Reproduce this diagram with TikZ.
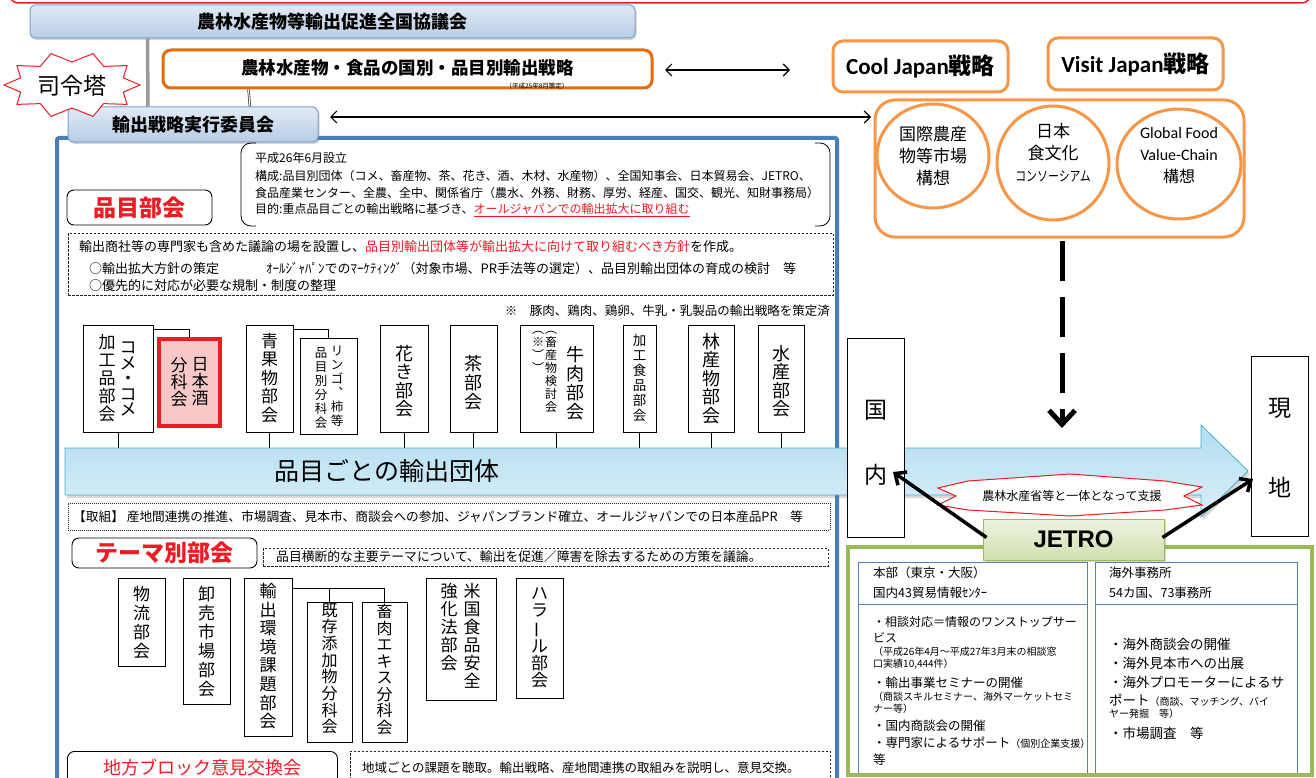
\documentclass[tikz,border=0pt]{standalone}
\usepackage{fontspec}
\setmainfont{Noto Sans CJK JP}
\newfontfamily\carl{Carlito}
\newfontfamily\arl{Liberation Sans}
\usetikzlibrary{arrows.meta,calc,shadows,shapes.geometric}
\newcommand{\fs}[1]{\fontsize{#1}{#1}\selectfont}
\newcommand{\vfs}[2]{\fontsize{#1}{#2}\selectfont}
\newcommand{\vbar}{\rotatebox[origin=c]{90}{ー}}
\definecolor{frameblue}{RGB}{74,126,187}
\definecolor{boxblueT}{RGB}{225,234,245}
\definecolor{boxblueB}{RGB}{185,205,229}
\definecolor{boxblueD}{RGB}{126,160,204}
\definecolor{orgL}{RGB}{247,150,70}
\definecolor{orgD}{RGB}{228,108,10}
\definecolor{jred}{RGB}{237,28,36}
\definecolor{jgreen}{RGB}{155,187,89}
\definecolor{tblue}{RGB}{79,129,189}
\definecolor{arrT}{RGB}{178,221,240}
\definecolor{arrB}{RGB}{218,239,248}
\definecolor{arrD}{RGB}{75,172,198}
\definecolor{pinkfill}{RGB}{248,200,200}
\definecolor{jgT}{RGB}{238,243,226}
\definecolor{jgB}{RGB}{208,224,175}
\tikzset{
 bluebox/.style={draw=boxblueD, line width=1pt, rounded corners=5pt, top color=boxblueT, bottom color=boxblueB, drop shadow={opacity=0.35,shadow xshift=1.5pt,shadow yshift=-2pt}, font=\bfseries\fs{18}},
 orgbox/.style={draw=orgL, line width=3pt, rounded corners=10pt, fill=white},
 vbox/.style={draw=black, line width=0.8pt, fill=white, inner sep=0pt},
 vt/.style={align=center, inner sep=0pt, anchor=north},
 lbl/.style={draw=black, line width=0.9pt, rounded corners=7pt, fill=white, text=jred, inner sep=0pt},
 dbox/.style={draw=black!85, line width=0.7pt, dash pattern=on 2.5pt off 1.5pt, inner sep=0pt},
 txt/.style={anchor=west, inner sep=0pt, font=\fs{12}},
 dblarrow/.style={line width=1.2pt, {Straight Barb[length=6pt,width=12pt]}-{Straight Barb[length=6pt,width=12pt]}},
 jarrow/.style={line width=3.5pt, -{Straight Barb[length=9pt,width=16pt]}},
 tline/.style={draw=tblue, line width=0.8pt},
}
\begin{document}
\begin{tikzpicture}[x=1pt,y=-1pt]
\useasboundingbox (0,0) rectangle (1316,778);
\clip (0,0) rectangle (1316,778);
\fill[white] (0,0) rectangle (1316,778);

% top red frame
\draw[jred, line width=1.5pt, rounded corners=8pt] (10,-40) rectangle (1310,3);

% frames
\draw[frameblue, line width=4pt, rounded corners=2pt] (57,138) rectangle (837,800);
\draw[jgreen, line width=4pt] (848,547) rectangle (1312,775);

% top structure
\node[bluebox, minimum width=605pt, minimum height=33pt] (council) at (332.5,21.5) {農林水産物等輸出促進全国協議会};
\node[orgbox, draw=orgD, minimum width=489pt, minimum height=38pt, rounded corners=8pt] (strategy) at (407.5,69) {};
\node[font=\bfseries\fs{17.5}] (stratxt) at (407.5,68) {農林水産物・食品の国別・品目別輸出戦略};
\node[font=\fs{6.5}] (stranote) at (537,86.5) {（平成25年8月策定）};
\draw[gray!80, line width=3.5pt] ($(council.south west)+(118,0)$) -- (148,108);
\draw[black!80, line width=0.7pt, double=white, double distance=1pt] ($(strategy.south west)+(87,0)$) -- (250,108);
\node[bluebox, minimum width=250pt, minimum height=35pt] (iinkai) at (193,124.5) {輸出戦略実行委員会};

% 司令塔
\draw[jred, line width=1pt, fill=white] (140,85) \foreach \i in {1,...,19} { -- ({72+(61+7*cos(180*\i))*cos(18*\i)}, {85+(28+5*cos(180*\i))*sin(18*\i)}) } -- cycle;
\node[font=\fs{23}] (shirei) at (72,86) {司令塔};

% Cool / Visit Japan
\node[orgbox, minimum width=175pt, minimum height=51pt, font=\bfseries\fs{23}] (cool) at (920.5,66.5) {{\carl Cool Japan}戦略};
\node[orgbox, minimum width=175pt, minimum height=52pt, font=\bfseries\fs{23}] (visit) at (1135.5,64) {{\carl Visit Japan}戦略};
\node[orgbox, minimum width=369pt, minimum height=137pt, rounded corners=20pt] (concept) at (1059.5,168.5) {};
\node[ellipse, draw=orgL, line width=3pt, minimum width=112pt, minimum height=104pt, inner sep=0pt] (c1) at (933,156) {};
\node[align=center, font=\vfs{17}{22}] (c1t) at (933,156) {国際農産\\物等市場\\構想};
\node[ellipse, draw=orgL, line width=3pt, minimum width=112pt, minimum height=114pt, inner sep=0pt] (c2) at (1053,163) {};
\node[align=center, font=\vfs{17}{22}] (c2t) at (1053,153) {日本\\食文化\\{\fs{14}\scalebox{0.78}[1]{コンソーシアム}}};
\node[ellipse, draw=orgL, line width=3pt, minimum width=124pt, minimum height=110pt, inner sep=0pt] (c3) at (1179,164) {};
\node[align=center, font=\vfs{16}{22}] (c3t) at (1179,156) {{\carl Global Food}\\{\carl Value-Chain}\\構想};

% arrows top
\coordinate (a1s) at (665,70);
\coordinate (a1e) at (790,70);
\draw[dblarrow] (a1s) -- (a1e);
\coordinate (a2s) at (330,117);
\coordinate (a2e) at (871,117);
\draw[dblarrow] (a2s) -- (a2e);
\coordinate (dsS) at (1062,241);
\coordinate (dsE) at (1062,428);
\draw[line width=5pt, dash pattern=on 40pt off 16pt, -{Straight Barb[length=14pt,width=26pt]}] (dsS) -- (dsE);

% bracket info box
\draw[black, line width=0.8pt, rounded corners=10pt] (256,143) -- (241,143) -- (241,226) -- (256,226);
\draw[black, line width=0.8pt, rounded corners=10pt] (815,143) -- (830,143) -- (830,226) -- (815,226);
\node[txt] (i1) at (255,158) {平成26年6月設立};
\node[txt] (i2) at (255,176) {構成:品目別団体（コメ、畜産物、茶、花き、酒、木材、水産物）、全国知事会、日本貿易会、JETRO、};
\node[txt] (i3) at (255,193) {食品産業センター、全農、全中、関係省庁（農水、外務、財務、厚労、経産、国交、観光、知財事務局）};
\node[txt] (i4) at (255,210) {目的:重点品目ごとの輸出戦略に基づき、\textcolor{jred}{\underline{オールジャパンでの輸出拡大に取り組む}}};

\node[lbl, minimum width=145pt, minimum height=35pt, font=\bfseries\fs{23}] (hinmoku) at (139.5,207.5) {品目部会};
\node[dbox, minimum width=765pt, minimum height=62pt] (policy) at (450.5,264) {};
\node[txt, font=\fs{13}] (p1) at (79,247) {輸出商社等の専門家も含めた議論の場を設置し、\textcolor{jred}{品目別輸出団体等が輸出拡大に向けて取り組むべき方針}を作成。};
\node[txt, font=\fs{13}] (p2a) at (89,269) {○輸出拡大方針の策定};
\node[txt, font=\fs{13}] (p2b) at (266,269) {ｵｰﾙｼﾞｬﾊﾟﾝでのﾏｰｹﾃｨﾝｸﾞ（対象市場、PR手法等の選定）、品目別輸出団体の育成の検討　等};
\node[txt, font=\fs{13}] (p3) at (89,286) {○優先的に対応が必要な規制・制度の整理};
\node[anchor=east, inner sep=0pt, font=\fs{12.5}] (note) at (830,311) {※　豚肉、鶏肉、鶏卵、牛乳・乳製品の輸出戦略を策定済};

% big flow arrow
\draw[arrD, line width=0.8pt, top color=arrT, bottom color=arrB, drop shadow={opacity=0.3,shadow xshift=2pt,shadow yshift=-3pt}] (65,448) -- (1201,448) -- (1201,425) -- (1248,471) -- (1201,517) -- (1201,495) -- (65,495) -- cycle;
\node[font=\fs{25}] (flowtxt) at (387,471) {品目ごとの輸出団体};
\coordinate (arrtop) at (0,448);

% item boxes
\node[vbox, minimum width=70pt, minimum height=107pt] (b1) at (118,378.5) {};
\node[draw=jred, line width=4pt, fill=pinkfill, minimum width=61pt, minimum height=87pt, inner sep=0pt] (b2) at (189.5,382.5) {};
\node[vbox, minimum width=47pt, minimum height=107pt] (b3) at (269.5,378.5) {};
\node[vbox, minimum width=57pt, minimum height=96pt] (b4) at (328.5,386) {};
\node[vbox, minimum width=48pt, minimum height=107pt] (b5) at (404,378.5) {};
\node[vbox, minimum width=47pt, minimum height=107pt] (b6) at (473.5,378.5) {};
\node[vbox, minimum width=73pt, minimum height=107pt] (b7) at (556.5,378.5) {};
\node[vbox, minimum width=33pt, minimum height=107pt] (b8) at (639.5,378.5) {};
\node[vbox, minimum width=46pt, minimum height=107pt] (b9) at (711,378.5) {};
\node[vbox, minimum width=46pt, minimum height=107pt] (b10) at (781,378.5) {};
\draw[line width=0.8pt] ($(b1.north east)+(0,5)$) -| (b2.north);
\draw[line width=0.8pt] ($(b3.north east)+(0,5)$) -| (b4.north);
\foreach \b in {b1,b3,b5,b6,b7,b8,b9,b10} { \draw[line width=1pt] (\b.south) -- (\b.south |- arrtop); }

\node[vt, font=\vfs{17}{15.5}] (b1r) at (128,342) {コ\\メ\\・\\コ\\メ};
\node[vt, font=\vfs{17}{18}] (b1l) at (107,334) {加\\工\\品\\部\\会};
\node[vt, font=\vfs{17}{17}] (b2r) at (200,357) {日\\本\\酒};
\node[vt, font=\vfs{17}{17}] (b2l) at (179,357) {分\\科\\会};
\node[vt, font=\vfs{17}{18.5}] (b3t) at (269.5,333) {青\\果\\物\\部\\会};
\node[vt, font=\vfs{12.5}{14}] (b4r) at (337,346) {リ\\ン\\ゴ\\︑\\柿\\等};
\node[vt, font=\vfs{12.5}{14}] (b4l) at (321,347) {品\\目\\別\\分\\科\\会};
\node[vt, font=\vfs{18}{18.5}] (b5t) at (404,345) {花\\き\\部\\会};
\node[vt, font=\vfs{18}{19}] (b6t) at (473.5,355) {茶\\部\\会};
\node[vt, font=\vfs{18}{19}] (b7r) at (575,346) {牛\\肉\\部\\会};
\node[vt, font=\vfs{12}{13}] (b7m) at (551,331) {︵\\畜\\産\\物\\検\\討\\会};
\node[vt, font=\vfs{12}{13}] (b7l) at (538,331) {︵\\※\\︶\\︶};
\node[vt, font=\vfs{13.5}{15}] (b8t) at (639.5,334) {加\\工\\食\\品\\部\\会};
\node[vt, font=\vfs{18}{18.5}] (b9t) at (711,333) {林\\産\\物\\部\\会};
\node[vt, font=\vfs{18}{18.5}] (b10t) at (781,345) {水\\産\\部\\会};

% torikumi
\node[dbox, dash pattern=on 1pt off 1pt, minimum width=762pt, minimum height=27pt] (torikumi) at (449,516.5) {};
\node[txt, font=\fs{12.7}] (tk) at (73,517) {【取組】 産地間連携の推進、市場調査、見本市、商談会への参加、ジャパンブランド確立、オールジャパンでの日本産品PR　等};

% theme
\node[lbl, minimum width=185pt, minimum height=30pt, font=\bfseries\fs{23}] (theme) at (164.5,553) {テーマ別部会};
\node[dbox, minimum width=565pt, minimum height=18pt] (themebox) at (545.5,557) {};
\node[txt, font=\fs{12.8}] (thtxt) at (276,557) {品目横断的な主要テーマについて、輸出を促進／障害を除去するための方策を議論。};

\node[vbox, minimum width=47pt, minimum height=88pt] (t1) at (141.5,622) {};
\node[vbox, minimum width=47pt, minimum height=126pt] (t2) at (206.5,641) {};
\node[vbox, minimum width=48pt, minimum height=158pt] (t3) at (268,657) {};
\node[vbox, minimum width=45pt, minimum height=140pt] (t4) at (329.5,672) {};
\node[vbox, minimum width=45pt, minimum height=140pt] (t5) at (384.5,672) {};
\node[vbox, minimum width=70pt, minimum height=122pt] (t6) at (461,639) {};
\node[vbox, minimum width=47pt, minimum height=120pt] (t7) at (539.5,638) {};
\draw[line width=0.8pt] ($(t3.north east)+(0,11)$) -| (t5.north);
\draw[line width=0.8pt] (t4.north) -- ($(t4.north)+(0,-13)$);

\node[vt, font=\vfs{17}{19}] (t1t) at (141.5,586) {物\\流\\部\\会};
\node[vt, font=\vfs{17}{19}] (t2t) at (206.5,586) {卸\\売\\市\\場\\部\\会};
\node[vt, font=\vfs{17}{18.6}] (t3t) at (268,583) {輸\\出\\環\\境\\課\\題\\部\\会};
\node[vt, font=\vfs{16}{16.7}] (t4t) at (329.5,603) {既\\存\\添\\加\\物\\分\\科\\会};
\node[vt, font=\vfs{16}{16.5}] (t5t) at (384.5,604) {畜\\肉\\エ\\キ\\ス\\分\\科\\会};
\node[vt, font=\vfs{17}{18}] (t6r) at (472,583) {米\\国\\食\\品\\安\\全};
\node[vt, font=\vfs{17}{18}] (t6l) at (449,583) {強\\化\\法\\部\\会};
\node[vt, font=\vfs{17}{17.2}] (t7t) at (539.5,587) {ハ\\ラ\\\vbar\\ル\\部\\会};

% chiho
\node[lbl, minimum width=270pt, minimum height=50pt, anchor=north west] (chiho) at (67,751) {};
\node[font=\fs{18}, text=jred] (chihot) at (202,768) {地方ブロック意見交換会};
\node[dbox, minimum width=480pt, minimum height=50pt, anchor=north west] (chihobox) at (350,751) {};
\node[txt, font=\fs{12.5}] (chihotxt) at (362,768) {地域ごとの課題を聴取。輸出戦略、産地間連携の取組みを説明し、意見交換。};

% kokunai / genchi
\node[vbox, minimum width=57pt, minimum height=199pt] (kokunai) at (875.5,437.5) {};
\node[font=\fs{23}] (koku) at (875.5,410) {国};
\node[font=\fs{23}] (nai) at (875.5,475) {内};
\node[vbox, minimum width=57pt, minimum height=180pt] (genchi) at (1279.5,446) {};
\node[font=\fs{23}] (gen) at (1279.5,408) {現};
\node[font=\fs{23}] (chi) at (1279.5,487) {地};

% support banner
\draw[jred, line width=1pt, fill=white] (938,488) -- (968,481) -- (1070,474) -- (1165,481) -- (1202,487) -- (1184,496) -- (1202,505) -- (1165,510) -- (1070,516) -- (968,510) -- (938,505) -- (956,496) -- cycle;
\node[font=\fs{12}] (support) at (1072,496) {農林水産省等と一体となって支援};

% JETRO tables
\draw[tline] (858,773) -- (858,562) -- (1087,562) -- (1087,773);
\draw[tline] (858,604) -- (1087,604);
\draw[tline] (1095,773) -- (1095,562) -- (1297,562) -- (1297,773);
\draw[tline] (1095,604) -- (1297,604);

\node[txt, font=\fs{12.5}] (l1) at (873,573) {本部（東京・大阪）};
\node[txt, font=\fs{12.5}] (l2) at (873,593) {国内43貿易情報ｾﾝﾀｰ};
\node[txt, font=\fs{12}] (l3) at (873,622) {・相談対応＝情報のワンストップサー};
\node[txt, font=\fs{12}] (l4) at (873,638) {ビス};
\node[txt, font=\fs{10}] (l5) at (873,652) {（平成26年4月～平成27年3月末の相談窓};
\node[txt, font=\fs{10}] (l6) at (873,664) {口実績10,444件）};
\node[txt, font=\fs{12.5}] (l7) at (873,683) {・輸出事業セミナーの開催};
\node[txt, font=\fs{10}] (l8) at (873,697) {（商談スキルセミナー、海外マーケットセミ};
\node[txt, font=\fs{10}] (l9) at (873,709) {ナー等）};
\node[txt, font=\fs{12.5}] (l10) at (873,726) {・国内商談会の開催};
\node[txt, font=\fs{12.5}] (l11) at (873,743) {・専門家によるサポート{\fs{10}（個別企業支援）}};
\node[txt, font=\fs{12.5}] (l12) at (873,760) {等};

\node[txt, font=\fs{12.5}] (r1) at (1109,573) {海外事務所};
\node[txt, font=\fs{12.5}] (r2) at (1109,593) {54カ国、73事務所};
\node[txt, font=\fs{13.5}] (r3) at (1109,644) {・海外商談会の開催};
\node[txt, font=\fs{13.5}] (r4) at (1109,663) {・海外見本市への出展};
\node[txt, font=\fs{13.5}] (r5) at (1109,682) {・海外プロモーターによるサ};
\node[txt, font=\fs{13.5}] (r6) at (1109,700) {ポート{\fs{10}（商談、マッチング、バイ}};
\node[txt, font=\fs{10}] (r7) at (1109,714) {ヤー発掘　等）};
\node[txt, font=\fs{13.5}] (r8) at (1109,733) {・市場調査　等};

% JETRO
\node[draw=jgreen, line width=1pt, top color=jgT, bottom color=jgB, minimum width=181pt, minimum height=41pt, font=\arl\bfseries\fs{24}, drop shadow={opacity=0.3,shadow xshift=1.5pt,shadow yshift=-2pt}] (jetro) at (1073.5,539.5) {JETRO};
\coordinate (kin) at (893,472);
\coordinate (gin) at (1253,479);
\draw[jarrow] ($(jetro.west)+(4,-2)$) -- (kin);
\draw[jarrow] ($(jetro.east)+(-2,-2)$) -- (gin);
\end{tikzpicture}
\end{document}
